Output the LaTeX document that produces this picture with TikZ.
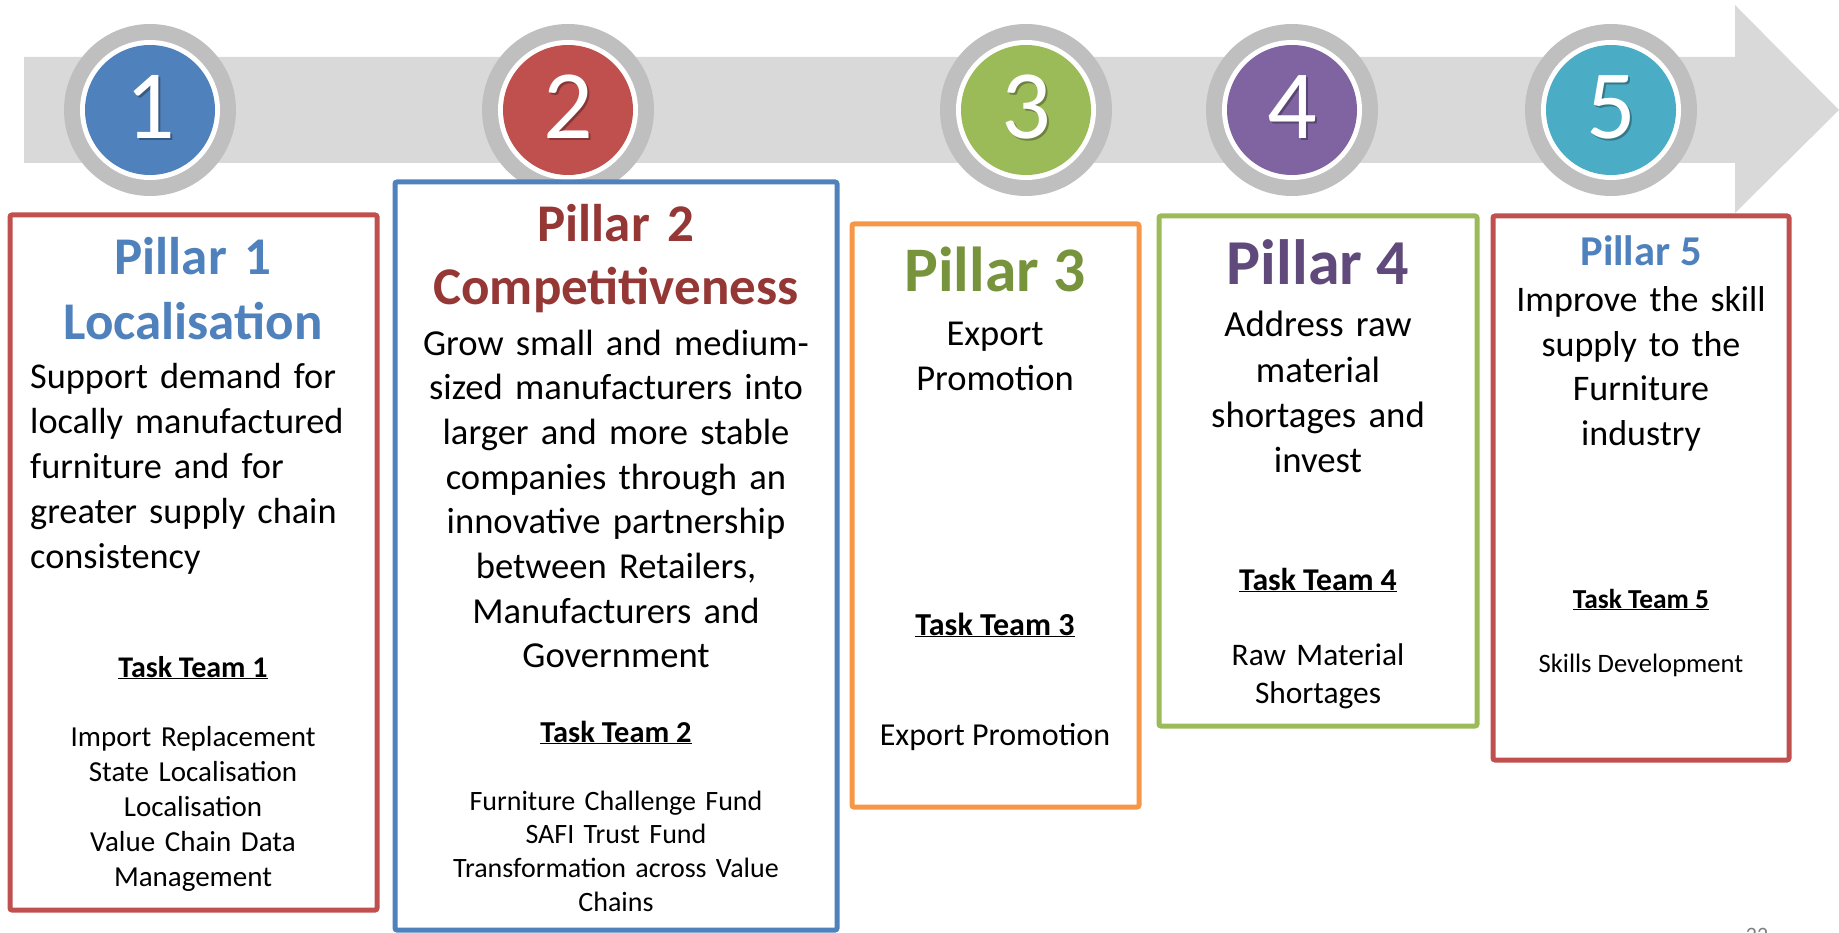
\documentclass[tikz,border=0pt]{standalone}
\usepackage{fontspec}
\setmainfont{Carlito}
\definecolor{banda}{HTML}{D9D9D9}
\definecolor{anello}{HTML}{BFBFBF}
\definecolor{blu}{HTML}{4F81BD}
\definecolor{rosso}{HTML}{C0504D}
\definecolor{verde}{HTML}{9BBB59}
\definecolor{viola}{HTML}{8064A2}
\definecolor{azzurro}{HTML}{4BACC6}
\definecolor{arancio}{HTML}{F79646}
\definecolor{rossoscuro}{HTML}{953735}
\definecolor{verdescuro}{HTML}{77933C}
\definecolor{violascuro}{HTML}{604A7B}
\newcommand{\fs}[2]{\fontsize{#1}{#2}\selectfont}
\begin{document}
\begin{tikzpicture}[x=1pt,y=-1pt,
  riquadro/.style={line width=5pt, rounded corners=2pt, fill=white},
  testo/.style={anchor=base, align=center, inner sep=0pt}]
\useasboundingbox (0,0) rectangle (1839,933);
%freccia
\fill[banda] (24,57) -- (1735,57) -- (1735,5) -- (1839,110) -- (1735,213) -- (1735,163) -- (24,163) -- cycle;
%cerchi
\foreach \n/\x/\c in {1/150/blu, 2/568/rosso, 3/1026/verde, 4/1292/viola, 5/1611/azzurro}{
\fill[anello] (\x,110) circle (86pt);
\fill[white] (\x,110) circle (70pt);
\fill[\c] (\x,110) circle (65pt);
\node[text=black, opacity=0.3, inner sep=0pt] (o\n) at (\x+2,109) {\fs{98}{98}\n};
\node[text=white, inner sep=0pt] (c\n) at (\x,107) {\fs{98}{98}\n};
}
%riquadri
\draw[riquadro, draw=rosso] (10,215) rectangle (377,910);
\draw[riquadro, draw=blu] (395,182) rectangle (837,930);
\draw[riquadro, draw=arancio] (852,224) rectangle (1139,807);
\draw[riquadro, draw=verde] (1159,216) rectangle (1477,726);
\draw[riquadro, draw=rosso] (1493,216) rectangle (1789,760);
%pilastro 1
\node[testo, text width=360pt, text=blu, font=\bfseries\fs{53}{65}] (t1) at (193,275) {Pillar 1\\Localisation};
\node[testo, anchor=base west, align=left, text width=345pt, font=\fs{36.3}{45}] (b1) at (30,388) {Support demand for\\locally manufactured\\furniture and for\\greater supply chain\\consistency};
\node[testo, font=\bfseries\fs{30}{35}] (tt1) at (193,677) {\underline{Task Team 1}};
\node[testo, text width=360pt, font=\fs{29}{35}] (l1) at (193,746) {Import Replacement\\State Localisation\\Localisation\\Value Chain Data\\Management};
%pilastro 2
\node[testo, text width=430pt, text=rossoscuro, font=\bfseries\fs{53}{63}] (t2) at (616,242) {Pillar 2\\Competitiveness};
\node[testo, text width=430pt, font=\fs{36.6}{44.7}] (b2) at (616,355) {Grow small and medium-\\sized manufacturers into\\larger and more stable\\companies through an\\innovative partnership\\between Retailers,\\Manufacturers and\\Government};
\node[testo, font=\bfseries\fs{30.4}{35}] (tt2) at (616,742) {\underline{Task Team 2}};
\node[testo, text width=430pt, font=\fs{28}{33.7}] (l2) at (616,810) {Furniture Challenge Fund\\SAFI Trust Fund\\Transformation across Value\\Chains};
%pilastro 3
\node[testo, text=verdescuro, font=\bfseries\fs{63.5}{63.5}] (t3) at (995,292) {Pillar 3};
\node[testo, text width=280pt, font=\fs{36.5}{45}] (b3) at (995,345) {Export\\Promotion};
\node[testo, font=\bfseries\fs{32}{35}] (tt3) at (995,635) {\underline{Task Team 3}};
\node[testo, font=\fs{32}{35}] (l3) at (995,745) {Export Promotion};
%pilastro 4
\node[testo, text=violascuro, font=\bfseries\fs{64}{64}] (t4) at (1318,285) {Pillar 4};
\node[testo, text width=310pt, font=\fs{36.8}{45}] (b4) at (1318,337) {Address raw\\material\\shortages and\\invest};
\node[testo, font=\bfseries\fs{31.7}{35}] (tt4) at (1318,590) {\underline{Task Team 4}};
\node[testo, text width=310pt, font=\fs{31.4}{38}] (l4) at (1318,665) {Raw Material\\Shortages};
%pilastro 5
\node[testo, text=blu, font=\bfseries\fs{42.5}{42.5}] (t5) at (1641,266) {Pillar 5};
\node[testo, text width=290pt, font=\fs{36}{44.5}] (b5) at (1641,312) {Improve the skill\\supply to the\\Furniture\\industry};
\node[testo, font=\bfseries\fs{27.4}{30}] (tt5) at (1641,608) {\underline{Task Team 5}};
\node[testo, font=\fs{26.6}{30}] (l5) at (1641,672) {Skills Development};
%numero pagina
\node[anchor=north, inner sep=0pt, text=gray] (pag) at (1757,928) {\fs{22}{22}22};
\end{tikzpicture}
\end{document}
